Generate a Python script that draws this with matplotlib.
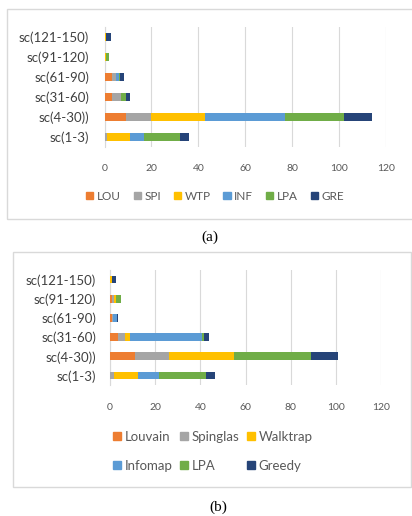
import matplotlib
matplotlib.use("Agg")
import matplotlib.pyplot as plt
from matplotlib.patches import Rectangle, Patch
import numpy as np

# categories (bottom to top)
cats = ["sc(1-3)", "sc(4-30))", "sc(31-60)", "sc(61-90)", "sc(91-120)", "sc(121-150)"]

# panel (a) values
labels_a = ["LOU", "SPI", "WTP", "INF", "LPA", "GRE"]
lou_a = [0, 9, 3, 3, 0, 0]
spi_a = [1, 11, 4, 2, 0, 0]
wtp_a = [10, 23, 0, 0, 0.7, 0.8]
inf_a = [6, 34, 0, 1, 0, 0]
lpa_a = [15, 25, 2, 0.8, 1.2, 0]
gre_a = [4, 12, 2, 1.3, 0, 2]

# panel (b) values
labels_b = ["Louvain", "Spinglas", "Walktrap", "Infomap", "LPA", "Greedy"]
lou_b = [0, 11, 3.7, 1, 1, 0]
spi_b = [1.6, 15, 3, 0.5, 0.6, 0]
wtp_b = [11, 29, 2, 0, 1.2, 0.9]
inf_b = [9, 0, 32, 1.5, 0, 0]
lpa_b = [21, 34, 1, 0, 1.9, 0]
gre_b = [4, 12, 2, 0.7, 0, 1.9]

colors = ["#ED7D31", "#A5A5A5", "#FFC000", "#5B9BD5", "#70AD47", "#264478"]
FONT = "Lato"
W, H = 412, 516

fig = plt.figure(figsize=(W / 100, H / 100), dpi=100)


def fx(px):
    return px / W


def fy(py):
    return 1 - py / H


def stacked(ax, series, pad_x, pad_y):
    y = np.arange(len(cats))
    left = np.zeros(len(cats))
    for vals, c in zip(series, colors):
        ax.barh(y, vals, left=left, height=0.4, color=c, zorder=3)
        left += np.array(vals)
    ax.set_xlim(0, 120)
    ax.set_ylim(-0.5, len(cats) - 0.5)
    ax.set_xticks(range(0, 121, 20))
    ax.set_yticks(y)
    ax.set_yticklabels(cats, fontsize=9.5, family=FONT, color="#404040")
    for t in ax.get_xticklabels():
        t.set_family(FONT)
    ax.tick_params(axis="x", length=0, labelsize=7.5, labelcolor="#595959", pad=pad_x)
    ax.tick_params(axis="y", length=0, pad=pad_y)
    ax.grid(axis="x", color="#D9D9D9", linewidth=0.8, zorder=0)
    for s in ["top", "right", "bottom"]:
        ax.spines[s].set_visible(False)
    ax.spines["left"].set_color("#D9D9D9")
    ax.spines["left"].set_linewidth(0.8)
    ax.set_facecolor("none")


# panel frames
fig.patches.append(Rectangle((fx(7.5), fy(219)), fx(420) - fx(7.5), fy(9) - fy(219),
                             transform=fig.transFigure, fill=False,
                             edgecolor="#D9D9D9", linewidth=1))
fig.patches.append(Rectangle((fx(13), fy(487)), fx(411) - fx(13), fy(252) - fy(487),
                             transform=fig.transFigure, fill=False,
                             edgecolor="#D9D9D9", linewidth=1))

# panel (a)
ax_a = fig.add_axes([fx(104.5), fy(147), fx(386) - fx(104.5), fy(27) - fy(147)])
stacked(ax_a, [lou_a, spi_a, wtp_a, inf_a, lpa_a, gre_a], 12, 11)
h_a = [Patch(color=c, label=l) for c, l in zip(colors, labels_a)]
fig.legend(handles=h_a, loc="center", bbox_to_anchor=(fx(215), fy(196)), ncol=6,
           frameon=False, prop={"family": FONT, "size": 8.5}, handlelength=0.6,
           handleheight=0.6, handletextpad=0.3, columnspacing=1.1, labelcolor="#595959")
fig.text(fx(210), fy(237), "(a)", ha="center", va="center", family="Liberation Serif", fontsize=11)

# panel (b)
ax_b = fig.add_axes([fx(110), fy(385), fx(381) - fx(110), fy(270) - fy(385)])
stacked(ax_b, [lou_b, spi_b, wtp_b, inf_b, lpa_b, gre_b], 13, 10)
h_b = [Patch(color=c, label=l) for c, l in zip(colors, labels_b)]
order = [0, 3, 1, 4, 2, 5]
fig.legend(handles=[h_b[i] for i in order], loc="center", bbox_to_anchor=(fx(213), fy(451.5)),
           ncol=3, frameon=False, prop={"family": FONT, "size": 9.5}, handlelength=0.55,
           handleheight=0.55, handletextpad=0.3, columnspacing=0.6, labelspacing=1.3,
           labelcolor="#595959")
fig.text(fx(218), fy(507), "(b)", ha="center", va="center", family="Liberation Serif", fontsize=11)

fig.savefig("out.png", dpi=100, facecolor="white")
